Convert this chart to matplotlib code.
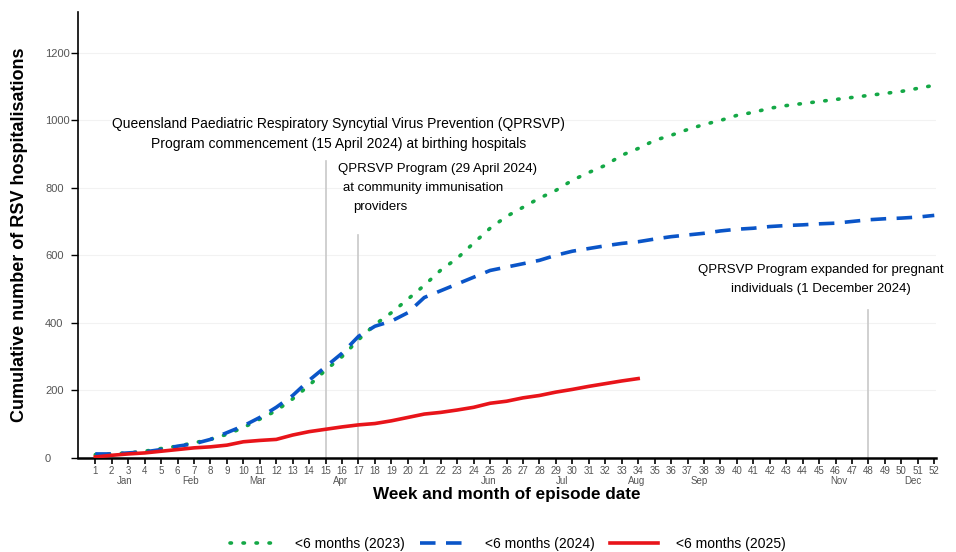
import matplotlib
matplotlib.use("Agg")
import matplotlib.pyplot as plt
import numpy as np

plt.rcParams['font.family'] = ['Liberation Sans', 'DejaVu Sans']

weeks = list(range(1, 53))

# cumulative RSV hospitalisations, <6 months
y2023 = [10, 12, 15, 20, 28, 35, 45, 55, 70, 90, 115, 140, 175, 215, 260, 300,
         350, 395, 430, 470, 511, 556, 591, 636, 680, 715, 742, 769, 792, 822,
         845, 866, 896, 916, 940, 955, 972, 987, 999, 1014, 1023, 1035, 1043,
         1049, 1055, 1061, 1067, 1073, 1079, 1085, 1094, 1103]
y2024 = [12, 12, 15, 18, 25, 35, 42, 55, 75, 95, 120, 150, 185, 230, 270, 310,
         360, 390, 405, 430, 475, 495, 515, 535, 555, 565, 575, 585, 600, 612,
         620, 628, 635, 640, 648, 655, 660, 665, 672, 677, 680, 685, 688, 690,
         693, 695, 700, 705, 708, 710, 713, 718]
weeks2025 = list(range(1, 35))
y2025 = [3, 8, 12, 15, 20, 25, 30, 33, 38, 48, 52, 55, 68, 78, 85, 92, 98, 102,
         110, 120, 130, 135, 142, 150, 162, 168, 178, 185, 195, 203, 212, 220,
         228, 235]

months = ["Jan", "Feb", "Mar", "Apr", "May", "Jun", "Jul", "Aug", "Sep", "Oct", "Nov", "Dec"]
month_pos = [2.8, 6.8, 10.85, 15.9, 20.0, 24.9, 29.4, 33.9, 37.7, 42.0, 46.2, 50.7]

event_weeks = [15, 17, 48]
event_tops = [880, 660, 437]

fig = plt.figure(figsize=(9.56, 5.52), dpi=100)
ax = fig.add_axes([0.0816, 0.1703, 0.8974, 0.808])

for yv in range(200, 1400, 200):
    ax.axhline(yv, color="#f2f2f2", lw=0.8, zorder=0)

for w, t in zip(event_weeks, event_tops):
    ax.plot([w, w], [0, t], color="#c8c8c8", lw=1.2, zorder=1)

ax.plot(weeks, y2023, color="#14a846", lw=2.6, linestyle=(0, (0.4, 3.2)),
        dash_capstyle="round", label="<6 months (2023)", zorder=3)
ax.plot(weeks, y2024, color="#0a55c8", lw=2.6, linestyle=(0, (4.3, 2.9)),
        label="<6 months (2024)", zorder=3)
ax.plot(weeks2025, y2025, color="#e8141a", lw=2.6,
        label="<6 months (2025)", zorder=4)

# annotations
ax.text(15.8, 1009, "Queensland Paediatric Respiratory Syncytial Virus Prevention (QPRSVP)\n"
        "Program commencement (15 April 2024) at birthing hospitals",
        ha="center", va="top", fontsize=10, linespacing=1.55)
ax.text(15.77, 872, "QPRSVP Program (29 April 2024)", ha="left", va="top", fontsize=9.5)
ax.text(16.08, 816, "at community immunisation", ha="left", va="top", fontsize=9.5)
ax.text(16.68, 760, "providers", ha="left", va="top", fontsize=9.5)
ax.text(45.1, 574, "QPRSVP Program expanded for pregnant\nindividuals (1 December 2024)",
        ha="center", va="top", fontsize=9.5, linespacing=1.75)

ax.set_xlim(-0.05, 52.1)
ax.set_ylim(0, 1320)

ax.set_xticks(weeks)
ax.set_xticklabels([str(w) for w in weeks], fontsize=7, color="#555555")
ax.set_xticks(month_pos, minor=True)
ax.set_xticklabels(months, minor=True, fontsize=7, color="#555555")
ax.tick_params(axis="x", which="major", length=4, width=1.2, pad=2)
ax.tick_params(axis="x", which="minor", length=0, pad=13)

ax.set_yticks(range(0, 1400, 200))
ax.tick_params(axis="y", labelsize=8, labelcolor="#555555", length=5, width=1, pad=18.7)
for lab in ax.get_yticklabels():
    lab.set_horizontalalignment("left")

for s in ["top", "right"]:
    ax.spines[s].set_visible(False)
ax.spines["left"].set_linewidth(1.2)
ax.spines["bottom"].set_linewidth(1.8)

ax.set_xlabel("Week and month of episode date", fontsize=12.3, fontweight="bold", labelpad=1)
ax.set_ylabel("Cumulative number of RSV hospitalisations", fontsize=13, fontweight="bold")
ax.yaxis.set_label_coords(-0.058, 0.5)

fig.legend(loc="lower center", bbox_to_anchor=(0.531, -0.02), ncol=3, frameon=False,
           fontsize=10, handlelength=3.4, handletextpad=1.3, columnspacing=1.1)

fig.savefig("out.png", dpi=100)
